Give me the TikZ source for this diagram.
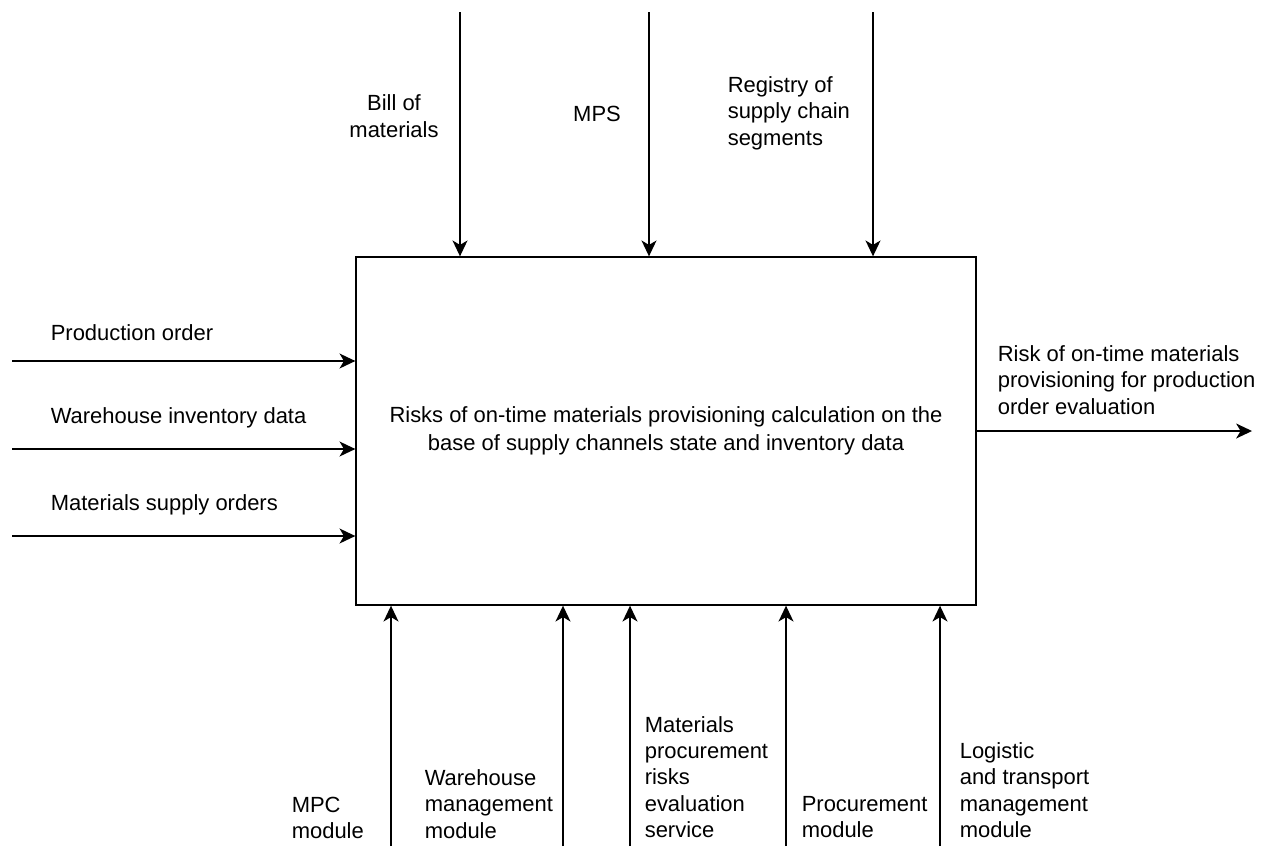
\documentclass[tikz,border=0pt]{standalone}
\usepackage{fontspec}
\setmainfont{Liberation Sans}
\usetikzlibrary{arrows.meta}

\begin{document}
\begin{tikzpicture}[x=0.02cm, y=-0.02cm, ->, >={Stealth[length=9pt, width=8.5pt, inset=2.5pt]}, line width=0.9pt,
		every node/.style={font=\fontsize{12.5}{15}\selectfont, inner sep=0pt},
		lbl/.style={align=left, anchor=west}]
		\useasboundingbox (0,0) rectangle (1270,846);
		
		\node[draw, line width=0.8pt, minimum width=12.4cm, minimum height=6.96cm, align=center,
			font=\fontsize{12.5}{16}\selectfont] (proc) at (666,431)
			{Risks of on-time materials provisioning calculation on the\\base of supply channels state and inventory data};
		
		% controls
		\foreach \c/\x in {bom/460, mps/649, reg/873} {
			\coordinate (\c) at (\x,12);
			\draw (\c) -- (\c |- proc.north);
		}
		\node[align=center] (bomlbl) at (394,116) {Bill of\\materials};
		\node (mpslbl) at (597,114) {MPS};
		\node[lbl] (reglbl) at (727,113) {Registry of\\supply chain\\segments};
		
		% inputs
		\foreach \c/\y in {po/361, wid/449, mso/536} {
			\coordinate (\c) at (12,\y);
			\draw (\c) -- (\c -| proc.west);
		}
		\node[lbl] (polbl) at (50,333) {Production order};
		\node[lbl] (widlbl) at (50,418) {Warehouse inventory data};
		\node[lbl] (msolbl) at (50,505) {Materials supply orders};
		
		% output
		\coordinate (risk) at (1252,431);
		\draw (proc.east) -- (risk);
		\node[lbl] (risklbl) at (997,380) {Risk of on-time materials\\provisioning for production\\order evaluation};
		
		% mechanisms
		\foreach \c/\x in {mpc/391, wms/563, mpr/630, prc/786, lts/940} {
			\coordinate (\c) at (\x,846);
			\draw (\c) -- (\c |- proc.south);
		}
		\node[lbl] (mpclbl) at (291,818) {MPC\\module};
		\node[lbl] (wmslbl) at (424,804) {Warehouse\\management\\module};
		\node[lbl] (mprlbl) at (644,777) {Materials\\procurement\\risks\\evaluation\\service};
		\node[lbl] (prclbl) at (801,817) {Procurement\\module};
		\node[lbl] (ltslbl) at (959,790) {Logistic\\and transport\\management\\module};
	\end{tikzpicture}
\end{document}
